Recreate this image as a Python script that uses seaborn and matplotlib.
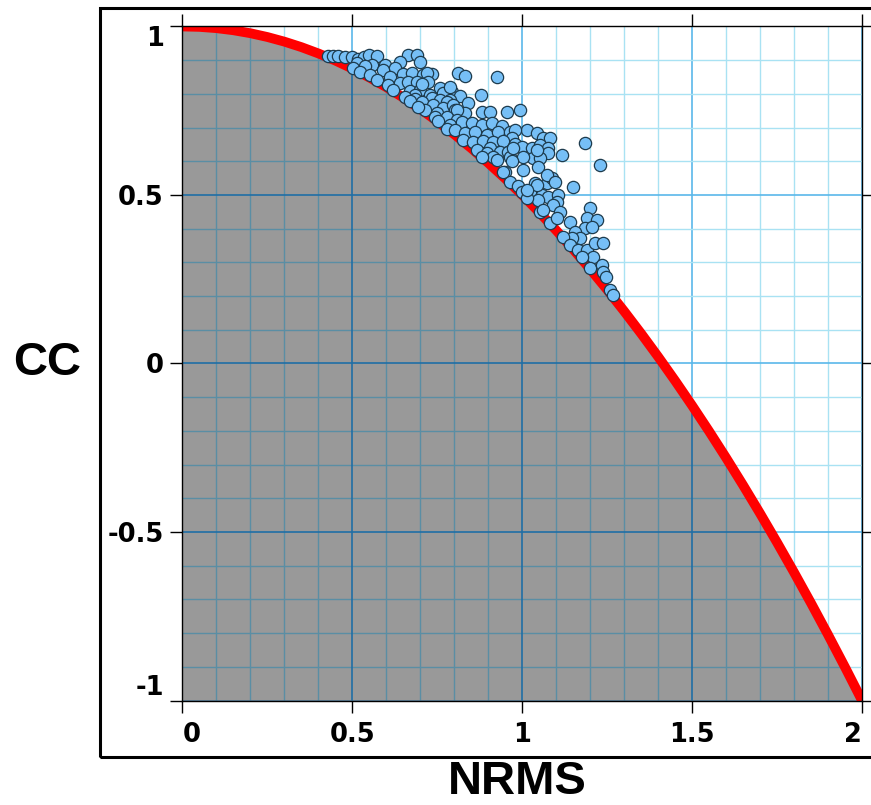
import numpy as np
import seaborn as sns
import matplotlib.pyplot as plt
from matplotlib.patches import Rectangle
from matplotlib.ticker import MultipleLocator

# Model scores: normalised RMS error vs. correlation coefficient
nrms = [
    0.428, 0.443, 0.458, 0.478, 0.499, 0.517, 0.534, 0.549, 0.572, 0.664,
    0.690, 0.640, 0.596, 0.558, 0.514, 0.537,
    0.625, 0.502, 0.522, 0.552, 0.590, 0.649, 0.611, 0.572, 0.676, 0.699,
    0.708, 0.734, 0.811, 0.831, 0.926, 0.720,
    0.605, 0.640, 0.664, 0.690, 0.723, 0.670, 0.699, 0.758, 0.793, 0.766,
    0.787, 0.728, 0.817, 0.879, 0.620, 0.684, 0.705,
    0.655, 0.734, 0.684, 0.670, 0.705, 0.758, 0.787, 0.778, 0.737, 0.766,
    0.796, 0.840, 0.714, 0.693, 0.749, 0.802, 0.831, 0.882, 0.905, 0.955,
    0.993, 0.743, 0.808,
    0.778, 0.808, 0.752, 0.787, 0.823, 0.852, 0.882, 0.911, 0.940, 0.778,
    0.802, 0.831, 0.861, 0.896, 0.929, 0.964, 1.014, 1.043, 0.979,
    1.061, 1.082, 0.970, 0.826, 0.855, 0.884, 0.914, 0.943, 0.979, 0.999,
    1.029, 1.052, 1.076, 1.076, 1.117, 1.185, 0.867, 0.905, 0.896, 0.935,
    0.958, 0.914, 0.964, 0.882, 1.032, 1.052, 0.926, 1.002, 1.043, 0.973,
    1.229, 1.046, 1.002, 0.970, 0.949, 0.964, 0.987, 1.023, 1.038, 1.073,
    1.088, 1.073, 1.096, 0.999, 1.058, 1.076, 1.105, 1.149, 1.102, 1.046,
    1.014, 1.043, 1.014, 0.943,
    1.091, 1.111, 1.199, 1.191, 1.220, 1.140, 1.185, 1.205, 1.155, 1.170,
    1.146, 1.120, 1.140, 1.164, 1.191, 1.214, 1.238, 1.208, 1.176, 1.199,
    1.235, 1.238, 1.246, 1.258, 1.267, 1.082, 1.052, 1.061, 1.102,
]
cc = [
    0.911, 0.911, 0.911, 0.908, 0.908, 0.905, 0.908, 0.914, 0.911, 0.914,
    0.914, 0.896, 0.887, 0.887, 0.893, 0.884,
    0.878, 0.878, 0.866, 0.857, 0.872, 0.860, 0.851, 0.840, 0.863, 0.896,
    0.857, 0.860, 0.863, 0.854, 0.851, 0.863,
    0.825, 0.831, 0.834, 0.834, 0.834, 0.810, 0.813, 0.816, 0.807, 0.804,
    0.819, 0.798, 0.795, 0.798, 0.813, 0.798, 0.828,
    0.792, 0.789, 0.786, 0.780, 0.777, 0.783, 0.783, 0.777, 0.768, 0.759,
    0.768, 0.774, 0.753, 0.762, 0.744, 0.753, 0.744, 0.747, 0.747, 0.747,
    0.753, 0.732, 0.753,
    0.730, 0.724, 0.720, 0.709, 0.718, 0.715, 0.709, 0.715, 0.706, 0.695,
    0.694, 0.685, 0.688, 0.679, 0.688, 0.688, 0.694, 0.685, 0.694,
    0.670, 0.670, 0.670, 0.664, 0.658, 0.661, 0.658, 0.661, 0.652, 0.643,
    0.640, 0.649, 0.640, 0.626, 0.620, 0.655, 0.634, 0.640, 0.626, 0.628,
    0.628, 0.614, 0.614, 0.614, 0.611, 0.611, 0.605, 0.614, 0.634, 0.640,
    0.590, 0.584, 0.575, 0.602, 0.569, 0.539, 0.527, 0.510, 0.536, 0.536,
    0.551, 0.560, 0.539, 0.510, 0.501, 0.495, 0.501, 0.524, 0.480, 0.486,
    0.492, 0.530, 0.516, 0.569,
    0.471, 0.450, 0.462, 0.432, 0.426, 0.421, 0.403, 0.406, 0.391, 0.373,
    0.373, 0.376, 0.352, 0.337, 0.337, 0.358, 0.358, 0.317, 0.317, 0.284,
    0.293, 0.272, 0.257, 0.218, 0.204, 0.418, 0.450, 0.456, 0.432,
]

# Bound: CC reached for a given NRMS when both series share the same variance
bound_nrms = np.linspace(0.0, 2.0, 41)
bound_cc = [
    1.0, 0.99875, 0.995, 0.98875, 0.98, 0.96875, 0.955, 0.93875, 0.92,
    0.89875, 0.875, 0.84875, 0.82, 0.78875, 0.755, 0.71875, 0.68, 0.63875,
    0.595, 0.54875, 0.5, 0.44875, 0.395, 0.33875, 0.28, 0.21875, 0.155,
    0.08875, 0.02, -0.05125, -0.125, -0.20125, -0.28, -0.36125, -0.445,
    -0.53125, -0.62, -0.71125, -0.805, -0.90125, -1.0,
]

x_ticks = [0, 0.5, 1, 1.5, 2]
x_tick_labels = ["0", "0.5", "1", "1.5", "2"]
y_ticks = [-1, -0.5, 0, 0.5, 1]
y_tick_labels = ["-1", "-0.5", "0", "0.5", "1"]

sns.set_theme(style="white")
plt.rcParams["font.family"] = ["DejaVu Sans"]

fig = plt.figure(figsize=(8.71, 8.05), dpi=100)
ax = fig.add_axes([0.2095, 0.1298, 0.7802, 0.8373])
ax.set_xlim(0, 2)
ax.set_ylim(-1, 1)
ax.set_facecolor("white")

ax.set_xticks(x_ticks)
ax.set_yticks(y_ticks)
ax.xaxis.set_minor_locator(MultipleLocator(0.1))
ax.yaxis.set_minor_locator(MultipleLocator(0.1))

# light grid on the white part
ax.set_axisbelow(True)
ax.grid(which="minor", color="#a9e2f3", lw=1.0)
ax.grid(which="major", color="#5ab8ea", lw=1.2)

# grey region under the bound
fill = ax.fill_between(bound_nrms, -1, bound_cc, color="#999999", lw=0, zorder=1)
clip = fill.get_paths()[0]

# darker grid lines drawn over the grey region only
xmin_locs = list(ax.xaxis.get_minorticklocs())
ymin_locs = list(ax.yaxis.get_minorticklocs())
for locs, maj, func in ((xmin_locs, x_ticks, ax.vlines), (ymin_locs, y_ticks, ax.hlines)):
    lc = func(locs, -1, 2, color="#5a8ea4", lw=1.0, zorder=1.5)
    lc.set_clip_path(clip, ax.transData)
    lc2 = func(maj, -1, 2, color="#1f6ea6", lw=1.2, zorder=1.6)
    lc2.set_clip_path(clip, ax.transData)
ax.set_xlim(0, 2)
ax.set_ylim(-1, 1)

sns.lineplot(x=bound_nrms, y=bound_cc, color="red", lw=7, ax=ax, zorder=3,
             solid_capstyle="butt")
sns.scatterplot(x=nrms, y=cc, s=78, color="#76bff6", edgecolor="#1d3b4d",
                linewidth=0.9, ax=ax, zorder=4, clip_on=False)

for sp in ax.spines.values():
    sp.set_color("black")
    sp.set_linewidth(1.0)
    sp.set_zorder(5)
    sp.set_visible(True)

ax.tick_params(which="major", direction="out", length=8.5, width=1.0,
               color="black", top=True, right=True, bottom=True, left=True,
               labeltop=False, labelright=False)
ax.tick_params(which="minor", length=0)
ax.tick_params(axis="x", pad=7)
ax.tick_params(axis="y", pad=5)

ax.set_xticklabels(x_tick_labels, fontsize=18.5, fontweight="bold", color="black")
ax.set_yticklabels(y_tick_labels, fontsize=18.5, fontweight="bold", color="black")
xl = ax.get_xticklabels()
xl[0].set_ha("left")
xl[-1].set_ha("right")
yl = ax.get_yticklabels()
yl[0].set_va("bottom")
yl[-1].set_va("top")

ax.set_xlabel("NRMS", fontsize=34, fontweight="bold", family="Liberation Sans",
              color="black", va="center", ha="center")
ax.set_ylabel("CC", fontsize=34, fontweight="bold", family="Liberation Sans",
              color="black", rotation=0, ha="center", va="center")
ax.xaxis.set_label_coords(0.492, -0.1215)
ax.yaxis.set_label_coords(-0.1994, 0.5)

# outer frame around the plot
fig.add_artist(Rectangle((0.1148, 0.0596), 1.0, 0.9304, transform=fig.transFigure,
                         fill=False, ec="black", lw=2.2, clip_on=False))

fig.savefig("out.png", dpi=100, facecolor="white")
